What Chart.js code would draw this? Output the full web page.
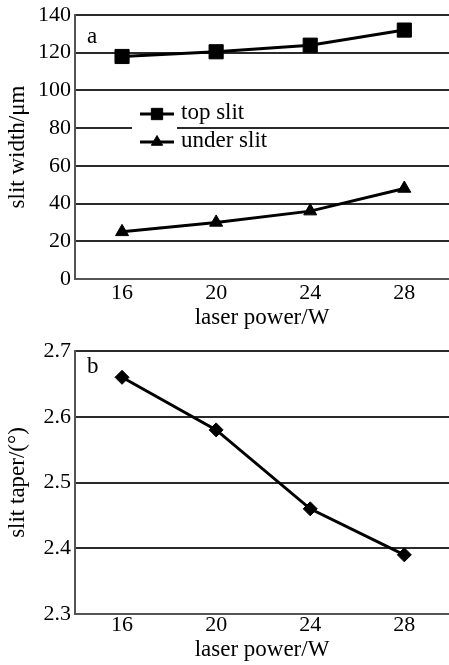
<!DOCTYPE html>
<html><head><meta charset="utf-8">
<script src="https://cdn.jsdelivr.net/npm/chart.js@4.4.0/dist/chart.umd.min.js"></script>
<style>
html,body{margin:0;padding:0;background:#fff;width:449px;height:665px;overflow:hidden;}
canvas{display:block;}
#wrap{position:relative;width:449px;height:665px;}
#c1{position:absolute;left:0;top:0;}
#c2{position:absolute;left:0;top:330px;}
</style></head><body>
<div id="wrap">
<canvas id="c1" width="449" height="330"></canvas>
<canvas id="c2" width="449" height="335"></canvas>
</div>
<script>
const powerTicks = [16, 20, 24, 28];
const laserPower = [16, 20, 24, 28];
const topSlit = [118, 120.5, 124, 132];
const underSlit = [25, 30, 36, 48];
const taper = [2.66, 2.58, 2.46, 2.39];
const powerRange = {min: 14, max: 29.9};
const widthTicks = {min: 0, max: 140, step: 20};
const taperTicks = {min: 2.3, max: 2.7, step: 0.1};
const seriesNames = ['top slit', 'under slit'];

const FONT = "'Liberation Serif','Times New Roman',serif";
const AXIS_W = 75, XAXIS_H = 51;

const toPoints = ys => laserPower.map((x, i) => ({x: x, y: ys[i]}));

const panelPlugin = {
  id: 'panel',
  afterDatasetsDraw(chart, args, opts) {
    const {ctx, chartArea: a} = chart;
    ctx.save();
    ctx.fillStyle = '#000';
    ctx.font = '23px ' + FONT;
    ctx.textBaseline = 'alphabetic';
    ctx.textAlign = 'left';
    ctx.fillText(opts.letter, a.left + 12, a.top + opts.letterY);
    if (opts.legend) {
      ctx.fillStyle = '#fff';
      ctx.fillRect(a.left + 57, a.top + 81, 45, 59);
      chart.data.datasets.forEach((ds, i) => {
        const y = a.top + 99 + i * 28;
        ctx.strokeStyle = '#000';
        ctx.lineWidth = 3;
        ctx.beginPath(); ctx.moveTo(a.left + 65, y); ctx.lineTo(a.left + 99, y); ctx.stroke();
        ctx.fillStyle = '#000';
        ctx.lineWidth = 1;
        Chart.helpers.drawPoint(ctx, {pointStyle: ds.pointStyle, radius: ds.pointStyle === 'rect' ? 8 : 6.5, borderWidth: 1, rotation: 0}, a.left + 82, y);
        ctx.fillText(ds.label, a.left + 106, y + 5);
      });
    }
    ctx.restore();
  }
};

function makeOptions(yr, yTitle, opts) {
  return {
    responsive: false,
    animation: false,
    layout: {autoPadding: false, padding: {top: opts.top, right: 0, bottom: 0, left: 0}},
    plugins: {legend: {display: false}, tooltip: {enabled: false},
      panel: {letter: opts.letter, letterY: opts.letterY, legend: opts.legend}},
    scales: {
      x: {
        type: 'linear', min: powerRange.min, max: powerRange.max, offset: false,
        afterBuildTicks: s => { s.ticks = powerTicks.map(v => ({value: v})); },
        grid: {display: false, drawTicks: false},
        border: {display: true, color: '#555', width: 2},
        ticks: {color: '#000', font: {family: FONT, size: 22, lineHeight: 1}, padding: opts.xPad, maxRotation: 0},
        title: {display: true, text: 'laser power/W', color: '#000',
          font: {family: FONT, size: 23, lineHeight: 1}, padding: {top: 0, bottom: opts.xTitlePad}},
        afterFit: s => { s.height = XAXIS_H; s.paddingLeft = 0; s.paddingRight = 0; }
      },
      y: {
        min: yr.min, max: yr.max,
        grid: {color: '#2a2a2a', lineWidth: 2, drawTicks: false},
        border: {display: true, color: '#555', width: 2},
        ticks: {stepSize: yr.step, color: '#000', padding: 4,
          font: {family: FONT, size: 22, lineHeight: 1},
          callback: v => opts.dec ? Number(v).toFixed(opts.dec) : v},
        title: {display: true, text: yTitle, color: '#000',
          font: {family: FONT, size: 23, lineHeight: 1}, padding: {top: 6, bottom: 0}},
        afterFit: s => { s.width = AXIS_W; }
      }
    }
  };
}

const lineStyle = {borderColor: '#000', backgroundColor: '#000', pointBackgroundColor: '#000',
  pointBorderColor: '#000', borderWidth: 3, pointBorderWidth: 1, tension: 0, fill: false};

new Chart(document.getElementById('c1'), {
  type: 'line',
  data: {
    datasets: [
      Object.assign({label: seriesNames[0], data: toPoints(topSlit), pointStyle: 'rect', pointRadius: 10}, lineStyle),
      Object.assign({label: seriesNames[1], data: toPoints(underSlit), pointStyle: 'triangle', pointRadius: 7.5}, lineStyle)
    ]
  },
  options: makeOptions(widthTicks, 'slit width/\u03bcm', {top: 15, letter: 'a', letterY: 28, legend: true, xPad: 3, xTitlePad: 0.5, dec: 0}),
  plugins: [panelPlugin]
});

new Chart(document.getElementById('c2'), {
  type: 'line',
  data: {
    datasets: [
      Object.assign({label: 'slit taper', data: toPoints(taper), pointStyle: 'rectRot', pointRadius: 7}, lineStyle)
    ]
  },
  options: makeOptions(taperTicks, 'slit taper/(\u00b0)', {top: 21, letter: 'b', letterY: 22, legend: false, xPad: 0.5, xTitlePad: 3.5, dec: 1}),
  plugins: [panelPlugin]
});
</script>
</body></html>
